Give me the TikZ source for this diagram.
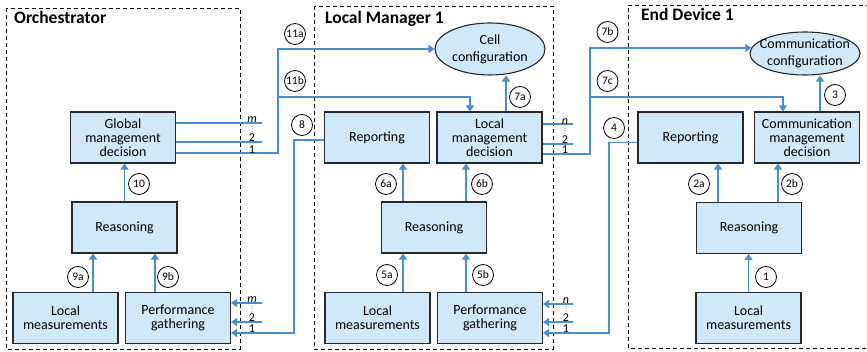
\documentclass[tikz,border=0pt]{standalone}
\usepackage{fontspec}
\setmainfont{Carlito}
\newfontfamily\dotsfont{DejaVu Sans}
\usetikzlibrary{arrows.meta,shapes.geometric}

\definecolor{flowblue}{RGB}{70,143,210}
\definecolor{boxfill}{RGB}{207,233,250}
\definecolor{boxline}{RGB}{40,40,40}

\tikzset{
  blk/.style={draw=boxline, fill=boxfill, line width=1.1pt, minimum width=105pt, minimum height=51pt,
    align=center, inner sep=1pt, font=\fontsize{14}{13.8}\selectfont},
  cfg/.style={ellipse, draw=boxline, fill=boxfill, line width=1.1pt, minimum width=110pt,
    inner xsep=-14pt, inner ysep=0pt, align=center, font=\fontsize{14}{16.8}\selectfont},
  num/.style={circle, draw, fill=white, line width=0.8pt, minimum size=21pt, inner sep=0pt,
    font=\fontsize{11.5}{12}\selectfont},
  link/.style={draw=flowblue, line width=1.6pt},
  flow/.style={link, -{Triangle[width=8pt,length=6pt]}},
  area/.style={draw, line width=0.9pt, dash pattern=on 4pt off 3pt},
  idx/.style={anchor=base, inner sep=0pt, font=\fontsize{12}{12}\selectfont},
  dots/.style={inner sep=0pt, text=black!70, font=\dotsfont\fontsize{7}{7}\selectfont},
  title/.style={anchor=base west, inner sep=0pt, font=\fontsize{17.5}{17.5}\selectfont\bfseries}
}

\begin{document}
\begin{tikzpicture}[x=1pt,y=-1pt]
  \useasboundingbox (0,0) rectangle (867,352);

  \draw[area] (6,8) rectangle (240,349);
  \draw[area] (314,6) rectangle (553,349);
  \draw[area] (870,5) -- (628,5) -- (628,348) -- (870,348);

  \node[title] (o_title) at (14,24) {Orchestrator};
  \node[title] (l_title) at (325,24) {Local Manager 1};
  \node[title] (e_title) at (641,21) {End Device 1};

  % orchestrator
  \node[blk] (o_dec)  at (123,137.5) {Global\\management\\decision};
  \node[blk] (o_rea)  at (124.5,227.5) {Reasoning};
  \node[blk] (o_loc)  at (65.5,318) {Local\\measurements};
  \node[blk] (o_perf) at (178,318) {Performance\\gathering};

  % local manager
  \node[cfg, minimum height=52pt] (l_cfg) at (490,49) {Cell\\configuration};
  \node[blk] (l_rep)  at (377,137.5) {Reporting};
  \node[blk] (l_dec)  at (489.5,137.5) {Local\\management\\decision};
  \node[blk] (l_rea)  at (434,227.5) {Reasoning};
  \node[blk] (l_loc)  at (377.5,318) {Local\\measurements};
  \node[blk] (l_perf) at (490,318) {Performance\\gathering};

  % end device
  \node[cfg, minimum height=43pt] (e_cfg) at (805,53.5) {Communication\\configuration};
  \node[blk] (e_rep) at (690.5,137.5) {Reporting};
  \node[blk] (e_dec) at (807,137.5) {Communication\\management\\decision};
  \node[blk] (e_rea) at (749,228) {Reasoning};
  \node[blk] (e_loc) at (748.5,318) {Local\\measurements};

  \coordinate (o_m) at (262,123);
  \coordinate (o_2) at (262,142);
  \coordinate (o_1) at (278,153);
  \coordinate (o_br) at (278,97);
  \coordinate (o_in_m) at (262,303);
  \coordinate (o_in_2) at (262,322);
  \coordinate (o_in_1) at (294,333);
  \coordinate (l_n) at (573,124);
  \coordinate (l_2) at (573,144);
  \coordinate (l_1) at (590,154);
  \coordinate (l_br) at (590,97);
  \coordinate (l_in_n) at (573,304);
  \coordinate (l_in_2) at (573,322);
  \coordinate (l_in_1) at (609,333);

  \draw[flow] ([xshift=27.5pt]o_loc.north) -- ([xshift=27.5pt]o_loc.north |- o_rea.south);
  \draw[flow] ([xshift=-23pt]o_perf.north) -- ([xshift=-23pt]o_perf.north |- o_rea.south);
  \draw[flow] (o_rea.north) -- (o_rea.north |- o_dec.south);

  \draw[link] (o_dec.east |- o_m) -- (o_m);
  \draw[link] (o_dec.east |- o_2) -- (o_2);
  \draw[flow] (o_dec.east |- o_1) -- (o_1) |- (l_cfg.west);
  \draw[flow] (o_br) -| ([xshift=-19.5pt]l_dec.north);

  \draw[flow] (o_in_m) -- (o_in_m -| o_perf.east);
  \draw[flow] (o_in_2) -- (o_in_2 -| o_perf.east);
  \draw[flow] ([yshift=-2.5pt]l_rep.west) -| (o_in_1) -- (o_in_1 -| o_perf.east);

  \draw[flow] ([xshift=25.5pt]l_loc.north) -- ([xshift=25.5pt]l_loc.north |- l_rea.south);
  \draw[flow] ([xshift=-24pt]l_perf.north) -- ([xshift=-24pt]l_perf.north |- l_rea.south);
  \draw[flow] ([xshift=-31pt]l_rea.north) -- ([xshift=-31pt]l_rea.north |- l_rep.south);
  \draw[flow] ([xshift=32pt]l_rea.north) -- ([xshift=32pt]l_rea.north |- l_dec.south);
  \draw[flow] ([xshift=16.5pt]l_dec.north) -- ([xshift=16.5pt]l_dec.north |- l_cfg.south);

  \draw[link] (l_dec.east |- l_n) -- (l_n);
  \draw[link] (l_dec.east |- l_2) -- (l_2);
  \draw[flow] (l_dec.east |- l_1) -- (l_1) |- (e_cfg.174);
  \draw[flow] (l_br) -| ([xshift=-24pt]e_dec.north);

  \draw[flow] (l_in_n) -- (l_in_n -| l_perf.east);
  \draw[flow] (l_in_2) -- (l_in_2 -| l_perf.east);
  \draw[flow] ([yshift=-5pt]e_rep.west) -| (l_in_1) -- (l_in_1 -| l_perf.east);

  \draw[flow] (e_loc.north) -- (e_loc.north |- e_rea.south);
  \draw[flow] ([xshift=-31pt]e_rea.north) -- ([xshift=-31pt]e_rea.north |- e_rep.south);
  \draw[flow] ([xshift=29pt]e_rea.north) -- ([xshift=29pt]e_rea.north |- e_dec.south);
  \draw[flow] ([xshift=13pt]e_dec.north) -- ([xshift=13pt]e_dec.north |- e_cfg.south);

  \node[idx] (o_m_t) at (252,123) {\textit{m}};
  \node[dots] (o_d_t) at (252,129.5) {⋮};
  \node[idx] (o_2_t) at (252,142) {2};
  \node[idx] (o_1_t) at (252,153.5) {1};
  \node[idx] (o_in_m_t) at (252,303) {\textit{m}};
  \node[dots] (o_in_d_t) at (252,309) {⋮};
  \node[idx] (o_in_2_t) at (252,322) {2};
  \node[idx] (o_in_1_t) at (252,333) {1};
  \node[idx] (l_n_t) at (565,124.5) {\textit{n}};
  \node[dots] (l_d_t) at (565,131.5) {⋮};
  \node[idx] (l_2_t) at (565,143.5) {2};
  \node[idx] (l_1_t) at (565,154) {1};
  \node[idx] (l_in_n_t) at (566,304) {\textit{n}};
  \node[dots] (l_in_d_t) at (566,309.5) {⋮};
  \node[idx] (l_in_2_t) at (566,322) {2};
  \node[idx] (l_in_1_t) at (566,333) {1};

  \node[num] (s10) at (139,184) {10};
  \node[num] (s9a) at (78,277) {9a};
  \node[num] (s9b) at (168,277) {9b};
  \node[num] (s11a) at (295,34) {11a};
  \node[num] (s11b) at (295,81) {11b};
  \node[num] (s8) at (302,125) {8};
  \node[num] (s7a) at (520,97) {7a};
  \node[num] (s6a) at (386,184) {6a};
  \node[num] (s6b) at (482,184) {6b};
  \node[num] (s5a) at (387,275) {5a};
  \node[num] (s5b) at (483,275) {5b};
  \node[num] (s7b) at (607.5,32) {7b};
  \node[num] (s7c) at (607.5,81) {7c};
  \node[num] (s4) at (614,128) {4};
  \node[num] (s3) at (835,95) {3};
  \node[num] (s2a) at (699,184) {2a};
  \node[num] (s2b) at (792,184) {2b};
  \node[num] (s1) at (766,277) {1};
\end{tikzpicture}
\end{document}
